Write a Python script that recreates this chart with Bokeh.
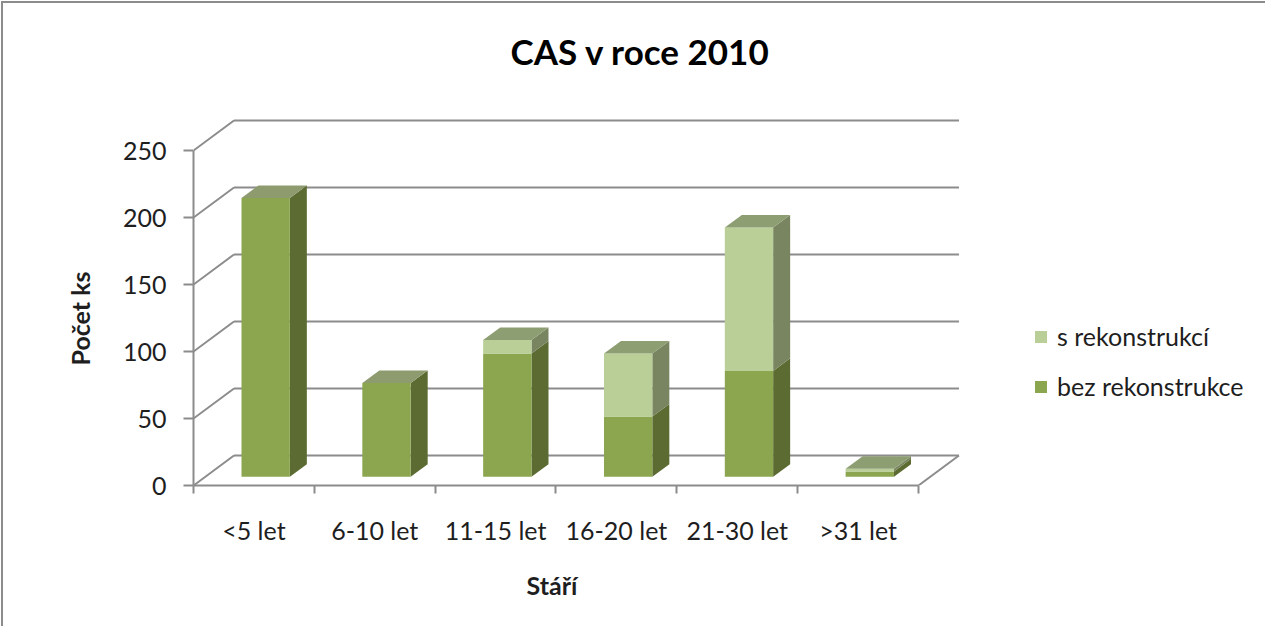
from bokeh.plotting import figure
from bokeh.models import FixedTicker, Label, Legend, LegendItem, Range1d, Title
from bokeh.embed import file_html
from bokeh.resources import INLINE

# ---- data ----
categories = ["<5 let", "6-10 let", "11-15 let", "16-20 let", "21-30 let", ">31 let"]
bez_rekonstrukce = [208, 70, 92, 45, 79, 4]
s_rekonstrukci = [0, 0, 10, 47, 107, 2]
y_ticks = [0, 50, 100, 150, 200, 250]
series_names = ["bez rekonstrukce", "s rekonstrukcí"]
title_text = "CAS v roce 2010"
x_title = "Stáří"
y_title = "Počet ks"

# ---- styling / geometry ----
FONT = "Lato"
GRID = "#8c8c8c"
TEXT = "#1e1e1e"
front_colors = ["#8ba64f", "#b9cf97"]
side_colors = ["#5b6b31", "#788560"]
top_colors = ["#8d9b6f", "#8e9e73"]

PX_X = 120.83          # pixels per category
PX_Y = 67.0 / 50.0     # pixels per value unit
DX = 40.5 / PX_X       # depth offset (x units)
DY = 30.0 / PX_Y       # depth offset (value units)
F0, F1 = 0.29, 0.71    # bar front/back depth fractions
BAR_W = 0.4

W, H = 1264, 625
ML, MB = 192, 141
frame_w = W - ML
frame_h = H - MB
# page-pixel helpers (frame left at page x=200, frame bottom at page y=492)
def px_to_x(px):
    return (px - 200) / PX_X
def py_to_y(py):
    return (492 - py) / PX_Y

p = figure(width=W, height=H, output_backend="svg", toolbar_location=None,
           x_range=Range1d(0, frame_w / PX_X), y_range=Range1d(0, frame_h / PX_Y),
           min_border_left=ML, min_border_right=0, min_border_top=0, min_border_bottom=MB)
p.styles = {"box-shadow": "inset 2px 2px 0 0 #8c8c8c", "margin-top": "1px", "margin-left": "1px"}
p.border_fill_color = None
p.background_fill_color = None
p.outline_line_color = None
p.xgrid.visible = False
p.ygrid.visible = False

n = len(categories)
ymax = y_ticks[-1]

# back wall gridlines and left wall diagonals
for v in y_ticks:
    p.line([DX, n + DX], [v + DY, v + DY], line_color=GRID, line_width=2)
    p.line([0, DX], [v, v + DY], line_color=GRID, line_width=2)
# floor right edge
p.line([n, n + DX], [0, DY], line_color=GRID, line_width=2)

# bars
ddx = (F1 - F0) * DX
ddy = (F1 - F0) * DY
front_src = {0: dict(left=[], right=[], bottom=[], top=[]), 1: dict(left=[], right=[], bottom=[], top=[])}
side_src = {0: dict(xs=[], ys=[]), 1: dict(xs=[], ys=[])}
top_src = {0: dict(xs=[], ys=[]), 1: dict(xs=[], ys=[])}
for i in range(n):
    x0 = i + 0.5 - BAR_W / 2 + F0 * DX
    x1 = x0 + BAR_W
    base = 0.0
    last = 0
    for s, vals in enumerate([bez_rekonstrukce, s_rekonstrukci]):
        v = vals[i]
        if v <= 0:
            continue
        yb = base + F0 * DY
        yt = base + v + F0 * DY
        front_src[s]["left"].append(x0)
        front_src[s]["right"].append(x1)
        front_src[s]["bottom"].append(yb)
        front_src[s]["top"].append(yt)
        side_src[s]["xs"].append([x1, x1 + ddx, x1 + ddx, x1])
        side_src[s]["ys"].append([yb, yb + ddy, yt + ddy, yt])
        base += v
        last = s
    yt = base + F0 * DY
    top_src[last]["xs"].append([x0, x1, x1 + ddx, x0 + ddx])
    top_src[last]["ys"].append([yt, yt, yt + ddy, yt + ddy])

front_r = {}
for s in (0, 1):
    p.patches(xs=side_src[s]["xs"], ys=side_src[s]["ys"], fill_color=side_colors[s], line_color=None)
    front_r[s] = p.quad(left=front_src[s]["left"], right=front_src[s]["right"],
                        bottom=front_src[s]["bottom"], top=front_src[s]["top"],
                        fill_color=front_colors[s], line_color=None)
for s in (0, 1):
    p.patches(xs=top_src[s]["xs"], ys=top_src[s]["ys"], fill_color=top_colors[s], line_color=None)

# ---- axes ----
xa = p.xaxis[0]
xa.bounds = (0, n)
xa.ticker = FixedTicker(ticks=[i + 0.5 for i in range(n)], minor_ticks=list(range(n + 1)))
xa.major_label_overrides = {i + 0.5: c for i, c in enumerate(categories)}
xa.major_tick_out = 0
xa.major_tick_in = 0
xa.minor_tick_out = 8
xa.minor_tick_in = 0
xa.minor_tick_line_color = GRID
xa.minor_tick_line_width = 2
xa.axis_line_color = GRID
xa.axis_line_width = 2
xa.major_label_text_font = FONT
xa.major_label_text_font_size = "25px"
xa.major_label_text_color = TEXT
xa.major_label_standoff = 21

ya = p.yaxis[0]
ya.bounds = (0, ymax)
ya.ticker = FixedTicker(ticks=y_ticks, minor_ticks=[])
ya.major_tick_out = 10
ya.major_tick_in = 0
ya.major_tick_line_color = GRID
ya.major_tick_line_width = 2
ya.axis_line_color = GRID
ya.axis_line_width = 2
ya.major_label_text_font = FONT
ya.major_label_text_font_size = "25px"
ya.major_label_text_color = TEXT
ya.major_label_standoff = 17

# axis titles as side titles, shifted to sit centred on the axis extent
p.add_layout(Title(text=x_title, align="left", offset=333, standoff=44, vertical_align="top",
                   text_font=FONT, text_font_style="bold", text_font_size="25px",
                   text_color=TEXT), "below")
p.add_layout(Title(text=y_title, align="left", offset=120, standoff=50,
                   text_font=FONT, text_font_style="bold", text_font_size="25px",
                   text_color=TEXT), "left")

# ---- title ----
p.add_layout(Label(x=px_to_x(647), y=py_to_y(57), text=title_text,
                   text_font=FONT, text_font_style="bold", text_font_size="35px",
                   text_color="#000000", text_align="center", text_baseline="middle"))

# ---- legend ----
legend = Legend(items=[LegendItem(label=series_names[1], renderers=[front_r[1]]),
                       LegendItem(label=series_names[0], renderers=[front_r[0]])],
                location=(840, 84))
legend.background_fill_alpha = 0
legend.border_line_color = None
legend.padding = 0
legend.margin = 0
legend.glyph_width = 15
legend.glyph_height = 15
legend.label_standoff = 9
legend.spacing = 20
legend.label_text_font = FONT
legend.label_text_font_size = "25px"
legend.label_text_color = TEXT
p.add_layout(legend)

open("out.html", "w").write(file_html(p, INLINE))
